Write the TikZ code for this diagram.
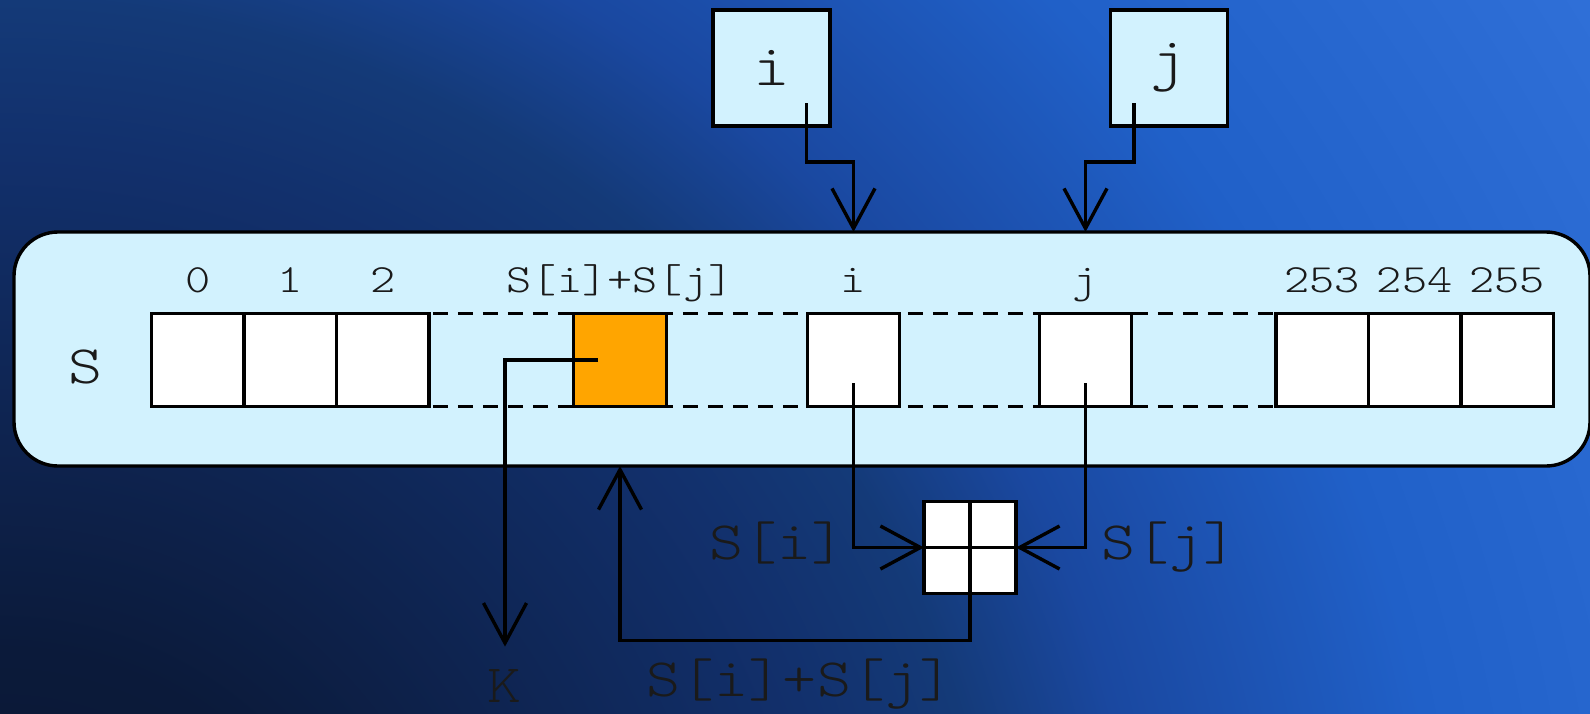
\documentclass[tikz,border=0pt]{standalone}
\usepackage{fontspec}
\usetikzlibrary{arrows.meta,calc}
\newfontfamily\mono{lmmonolt10-regular}[Extension=.otf,FakeStretch=1.2]
\definecolor{bg0}{HTML}{0A1630}
\definecolor{bg1}{HTML}{0B1A3A}
\definecolor{bg2}{HTML}{12306C}
\definecolor{bg3}{HTML}{143A78}
\definecolor{bg4}{HTML}{1A48A0}
\definecolor{bg5}{HTML}{2060C8}
\definecolor{bg6}{HTML}{3070D8}
\definecolor{lightc}{HTML}{D2F2FE}
\definecolor{orangec}{HTML}{FFA500}
\definecolor{txt}{HTML}{1A1A1A}
\pgfdeclareradialshading{bgshade}{\pgfpoint{0bp}{0bp}}{color(0bp)=(bg0); color(4.375bp)=(bg1); color(10.625bp)=(bg2); color(12.5bp)=(bg3); color(14.375bp)=(bg4); color(18.125bp)=(bg5); color(23.75bp)=(bg6); color(25bp)=(bg6); color(50bp)=(bg6)}
\pgfdeclarelayer{back}
\pgfdeclarelayer{mid}
\pgfsetlayers{back,mid,main}
\newcommand{\smallfont}{\mono\fontsize{20pt}{22pt}\selectfont}
\newcommand{\largefont}{\mono\fontsize{27pt}{30pt}\selectfont}
\newcommand{\boxfont}{\mono\fontsize{29pt}{32pt}\selectfont}
\tikzset{
  cell/.style={draw=black, line width=1.7pt, fill=white, minimum size=46.25pt, inner sep=0pt, outer sep=0pt},
  ptrbox/.style={draw=black, line width=1.7pt, fill=lightc, minimum width=58.5pt, minimum height=58pt, inner sep=0pt, font=\boxfont, text=txt},
  arr/.style={draw=black, line width=1.7pt, -{Straight Barb[length=20pt,width=21.5pt]}},
  dline/.style={draw=black, line width=1.7pt, dash pattern=on 7.5pt off 5pt},
  lblsmall/.style={anchor=base, inner sep=0pt, font=\smallfont, text=txt},
  lbllarge/.style={anchor=base, inner sep=0pt, font=\largefont, text=txt},
}
\begin{document}
\begin{tikzpicture}[x=0.5pt,y=-0.5pt]
\useasboundingbox (0,0) rectangle (1590,713);
% background
\begin{pgfonlayer}{back}
\begin{scope}
\clip (0,0) rectangle (1590,713);
\shade[shading=bgshade] (0,1000) circle[radius=1000pt];
\end{scope}
\end{pgfonlayer}
% main S container
\begin{pgfonlayer}{back}
\node[draw=black, line width=1.7pt, fill=lightc, rounded corners=22pt, minimum width=788pt, minimum height=117pt, inner sep=0pt, outer sep=0pt] (sbox) at (802,349) {};
\end{pgfonlayer}
% cells
\node[cell] (c0) at (197.75,360) {};
\node[cell] (c1) at (290.25,360) {};
\node[cell] (c2) at (382.75,360) {};
\node[cell, fill=orangec] (co) at (620,360) {};
\node[cell] (ci) at (853.5,360) {};
\node[cell] (cj) at (1085.5,360) {};
\node[cell] (c253) at (1322.25,360) {};
\node[cell] (c254) at (1414.75,360) {};
\node[cell] (c255) at (1507.25,360) {};
% dashed rails (behind the cells; their ends are hidden under the cells)
\begin{pgfonlayer}{mid}
\draw[dline] (c2.north) -- (c253.north);
\draw[dline] (c2.south) -- (c253.south);
\end{pgfonlayer}
% index labels
\node[lblsmall] (l0) at (197.75,292) {0};
\node[lblsmall] (l1) at (290.25,292) {1};
\node[lblsmall] (l2) at (382.75,292) {2};
\node[lblsmall] (lo) at (620,292) {S[i]+S[j]};
\node[lblsmall] (li) at (853.5,292) {i};
\node[lblsmall] (lj) at (1085.5,292) {j};
\node[lblsmall] (l253) at (1322.25,292) {253};
\node[lblsmall] (l254) at (1414.75,292) {254};
\node[lblsmall] (l255) at (1507.25,292) {255};
\node[lbllarge] (ls) at (86,383) {S};
% pointer boxes
\node[ptrbox] (bi) at (771.5,68) {i};
\node[ptrbox] (bj) at (1169,68) {j};
% merge box
\node[cell, minimum size=46pt] (m) at (970,547.5) {};
\draw[line width=1.7pt] (m.north) -- (m.south);
\draw[line width=1.7pt] (m.west) -- (m.east);
% labels below
\node[lbllarge] (lsi) at (777.5,559) {S[i]};
\node[lbllarge] (lsj) at (1169.5,559) {S[j]};
\node[lbllarge] (lsum) at (800,696) {S[i]+S[j]};
\node[lbllarge] (lk) at (505,702) {K};
% arrows from pointer boxes
\draw[arr] ([shift={(35,35)}]bi.center) -- ++(0,59) -| (ci.north |- sbox.north);
\draw[arr] ([shift={(-35,35)}]bj.center) -- ++(0,59) -| (cj.north |- sbox.north);
% arrows to merge box
\draw[arr] ([shift={(0,23)}]ci.center) |- (m.west);
\draw[arr] ([shift={(0,23)}]cj.center) |- (m.east);
% feedback to S
\draw[arr] (m.south) -- ++(0,47) -| (co.south |- sbox.south);
% output K
\draw[arr] ([shift={(-22,0)}]co.center) -| ([shift={(0,-22)}]lk.north);
\end{tikzpicture}
\end{document}
